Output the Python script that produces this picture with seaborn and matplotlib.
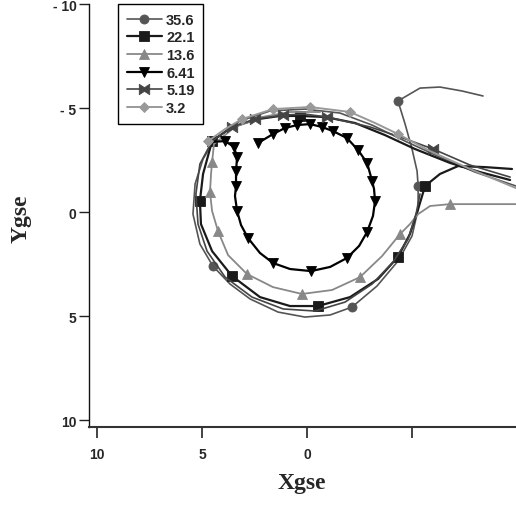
import matplotlib
matplotlib.use("Agg")
import matplotlib.pyplot as plt
from matplotlib.path import Path
import seaborn as sns

sns.set_style("ticks")
plt.rcParams["font.family"] = ["Liberation Sans", "DejaVu Sans"]

# Orbit tracks in GSE coordinates (Re); *_marks = sample indices drawn with a symbol
s356_x = [-8.38, -7.38, -6.33, -5.38, -4.33, -4.67, -5.00, -5.24, -5.29, -5.29, -5.00, -4.33,
          -3.33, -2.14, -1.10, 0.10, 1.38, 2.71, 3.67, 4.48, 5.10, 5.43, 5.33, 4.95, 4.38,
          3.19, 1.76, 0.10, -1.57, -3.10, -4.67, -6.33, -8.00, -9.95]
s356_y = [-5.58, -5.82, -6.01, -5.96, -5.34, -4.23, -3.03, -1.97, -1.25, -0.14, 1.15, 2.36,
          3.56, 4.57, 4.95, 5.05, 4.81, 4.18, 3.46, 2.60, 1.54, 0.10, -1.35, -2.55, -3.51,
          -4.38, -4.86, -4.95, -4.76, -4.18, -3.41, -2.64, -1.92, -1.25]
s356_marks = [4, 8, 13, 19]

s221_x = [-9.76, -8.48, -7.19, -6.33, -5.62, -5.29, -4.90, -4.33, -3.38, -2.05, -0.52, 0.81,
          2.24, 3.57, 4.52, 5.05, 5.10, 4.95, 4.52, 3.57, 2.33, 1.29, 0.33, -0.86, -2.29,
          -3.71, -5.14, -6.81, -8.24, -9.67]
s221_y = [-2.07, -2.16, -2.21, -1.83, -1.25, -0.14, 1.06, 2.16, 3.22, 4.09, 4.52, 4.52,
          4.09, 3.08, 1.88, 0.58, -0.53, -1.83, -3.41, -4.09, -4.47, -4.62, -4.62, -4.57,
          -4.28, -3.70, -3.03, -2.36, -1.92, -1.54]
s221_marks = [4, 7, 10, 13, 16, 18, 22]

s136_x = [-9.95, -9.19, -6.81, -5.86, -5.29, -4.90, -4.43, -3.57, -2.52, -1.19, 0.24, 1.62,
          2.86, 3.76, 4.24, 4.52, 4.62, 4.57, 4.52, 4.43, 3.43, 2.14, 0.81, -0.62]
s136_y = [-0.38, -0.38, -0.38, -0.29, 0.10, 0.58, 1.06, 2.12, 3.13, 3.75, 3.94, 3.61,
          2.98, 2.07, 0.91, -0.05, -0.96, -1.83, -2.40, -3.27, -4.09, -4.57, -4.81, -4.81]
s136_marks = [2, 6, 8, 10, 12, 14, 16, 18]

s641_x = [4.62, 3.90, 3.48, 3.33, 3.38, 3.38, 3.43, 3.33, 3.14, 2.81, 2.24, 1.62, 0.81,
          -0.19, -1.10, -1.90, -2.48, -2.86, -3.14, -3.24, -3.19, -3.10, -2.86, -2.43,
          -1.90, -1.24, -0.71, -0.14, 0.48, 1.05, 1.62, 2.33]
s641_y = [-3.37, -3.41, -3.13, -2.64, -1.97, -1.25, -0.77, -0.05, 0.63, 1.25, 1.97, 2.45,
          2.74, 2.84, 2.64, 2.21, 1.63, 0.96, 0.19, -0.53, -1.11, -1.49, -2.36, -2.98,
          -3.56, -3.89, -4.09, -4.23, -4.18, -4.04, -3.75, -3.32]
s641_marks = [1, 2, 3, 4, 5, 7, 9, 11, 13, 15, 17, 19, 21, 22, 23, 24, 25, 26, 27, 28,
              29, 30, 31]

s519_x = [-9.67, -7.76, -6.00, -4.43, -3.00, -0.95, 0.10, 1.14, 2.48, 3.57, 4.52, 5.10,
          5.29, 5.19, 4.76, 3.90, 2.62, 1.14, -0.38, -1.81, -3.10, -4.10, -4.81, -5.19, -5.38]
s519_y = [-1.68, -2.26, -3.03, -3.61, -4.09, -4.57, -4.71, -4.66, -4.47, -4.09, -3.41, -2.31,
          -0.87, 0.58, 1.88, 3.13, 4.09, 4.66, 4.76, 4.33, 3.46, 2.40, 1.30, 0.10, -0.87]
s519_marks = [2, 5, 7, 8, 9]

s32_x = [4.71, 3.90, 3.10, 1.62, -0.14, -2.05, -3.24, -4.33, -5.86, -7.76, -9.95]
s32_y = [-3.41, -3.99, -4.47, -4.95, -5.05, -4.81, -4.28, -3.75, -2.93, -2.07, -1.15]
s32_marks = [0, 2, 3, 4, 5, 7]

labels = ["35.6", "22.1", "13.6", "6.41", "5.19", "3.2"]
x_ticks = [10, 5, 0, -5]
x_ticklabels = ["10", "5", "0", ""]
y_ticks = [-10, -5, 0, 5, 10]
y_ticklabels = ["- 10", "- 5", "0", "5", "10"]

# sideways bow-tie symbol
bowtie = Path([(-1, -1), (0, -0.35), (1, -1), (1, 1), (0, 0.35), (-1, 1), (-1, -1)],
              [Path.MOVETO, Path.LINETO, Path.LINETO, Path.LINETO, Path.LINETO,
               Path.LINETO, Path.CLOSEPOLY])

series = [
    (s356_x, s356_y, s356_marks, "#555555", "o", 6.5, 1.2),
    (s221_x, s221_y, s221_marks, "#1a1a1a", "s", 7.5, 1.6),
    (s136_x, s136_y, s136_marks, "#888888", "^", 7.0, 1.3),
    (s641_x, s641_y, s641_marks, "#000000", "v", 6.5, 1.6),
    (s519_x, s519_y, s519_marks, "#444444", bowtie, 7.5, 1.2),
    (s32_x, s32_y, s32_marks, "#999999", "D", 5.5, 1.4),
]

fig = plt.figure(figsize=(5.16, 5.06), dpi=100)
ax = fig.add_axes([0.1725, 0.154, 0.8275, 0.836])

for (xs, ys, marks, col, mk, ms, lw), lab in zip(series, labels):
    sns.lineplot(x=xs, y=ys, sort=False, estimator=None, ax=ax, color=col,
                 marker=mk, markevery=marks, markersize=ms, markeredgewidth=0.6,
                 markeredgecolor=col, markerfacecolor=col, linewidth=lw, label=lab)

ax.set_xlim(10.38, -9.95)
ax.set_ylim(10.34, -10.0)

ax.set_xticks(x_ticks)
ax.set_xticklabels(x_ticklabels, fontweight="bold", fontsize=10)
ax.set_yticks(y_ticks)
ax.set_yticklabels(y_ticklabels, fontweight="bold", fontsize=10)
ax.tick_params(axis="x", direction="out", length=8, width=1.2, pad=6, color="#222222")
ax.tick_params(axis="y", direction="out", length=7, width=1.0, pad=2, color="#222222")

sns.despine(ax=ax)
ax.spines["left"].set_color("#111111")
ax.spines["left"].set_linewidth(1.0)
ax.spines["bottom"].set_color("#333333")
ax.spines["bottom"].set_linewidth(1.5)

ax.set_xlabel("Xgse", family=["Liberation Serif", "DejaVu Serif"], fontweight="bold", fontsize=17)
ax.set_ylabel("Ygse", family=["Liberation Serif", "DejaVu Serif"], fontweight="bold", fontsize=17)
ax.xaxis.set_label_coords(0.499, -0.106)
ax.yaxis.set_label_coords(-0.135, 0.494)

leg = ax.legend(loc="upper left", bbox_to_anchor=(0.068, 1.0), frameon=True, fancybox=False,
                edgecolor="black", framealpha=1, prop={"weight": "bold", "size": 10.5},
                handlelength=2.4, handletextpad=0.3, labelspacing=0.25, borderpad=0.6,
                borderaxespad=0.0)
leg.get_frame().set_linewidth(1.0)

fig.savefig("out.png", dpi=100)
